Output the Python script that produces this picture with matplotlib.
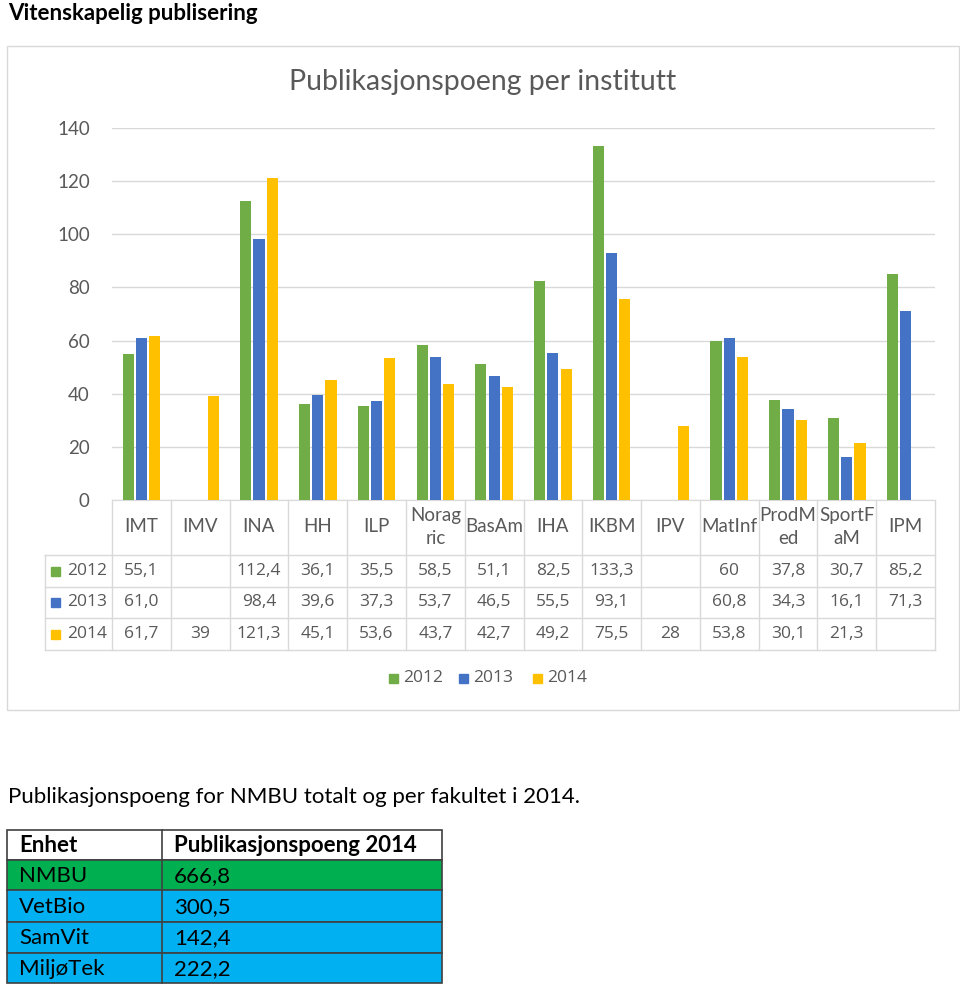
import matplotlib.pyplot as plt
import numpy as np

plt.rcParams['font.family'] = ['Lato', 'DejaVu Sans']

# data
institutter = ["IMT", "IMV", "INA", "HH", "ILP", "Norag\nric", "BasAm", "IHA",
               "IKBM", "IPV", "MatInf", "ProdM\ned", "SportF\naM", "IPM"]
aar = ["2012", "2013", "2014"]
poeng_2012 = ["55,1", "", "112,4", "36,1", "35,5", "58,5", "51,1", "82,5",
              "133,3", "", "60", "37,8", "30,7", "85,2"]
poeng_2013 = ["61,0", "", "98,4", "39,6", "37,3", "53,7", "46,5", "55,5",
              "93,1", "", "60,8", "34,3", "16,1", "71,3"]
poeng_2014 = ["61,7", "39", "121,3", "45,1", "53,6", "43,7", "42,7", "49,2",
              "75,5", "28", "53,8", "30,1", "21,3", ""]
farger = ["#70AD47", "#4472C4", "#FFC000"]

enheter = ["NMBU", "VetBio", "SamVit", "MiljøTek"]
poeng_fakultet = ["666,8", "300,5", "142,4", "222,2"]
enhet_farger = ["#00B050", "#00B0F0", "#00B0F0", "#00B0F0"]

W, H = 960, 985
fig = plt.figure(figsize=(W / 100, H / 100), dpi=100)


def box(x0, y0, x1, y1):
    # pixel box (top-left origin) -> figure rect
    return [x0 / W, 1 - y1 / H, (x1 - x0) / W, (y1 - y0) / H]


def fx(x):
    return x / W


def fy(y):
    return 1 - y / H


tall = [[np.nan if s == "" else float(s.replace(",", ".")) for s in serie]
        for serie in (poeng_2012, poeng_2013, poeng_2014)]
tekst = [poeng_2012, poeng_2013, poeng_2014]
grå = "#595959"
tallfont = ["Open Sans", "DejaVu Sans"]

# outer chart frame
bg = fig.add_axes(box(0, 0, W, H))
bg.set_xlim(0, W)
bg.set_ylim(H, 0)
bg.axis("off")
bg.add_patch(plt.Rectangle((7, 46), 952, 664, fill=False, ec="#D9D9D9", lw=1))

fig.text(fx(8), fy(14), "Vitenskapelig publisering", fontsize=16, fontweight="bold",
         va="center", ha="left")
fig.text(fx(483), fy(82), "Publikasjonspoeng per institutt", fontsize=20.4,
         color=grå, va="center", ha="center")

# bar chart
ax = fig.add_axes(box(112, 128, 935, 500))
n = len(institutter)
x = np.arange(n)
bredde = 0.19
for i, serie in enumerate(tall):
    ax.bar(x + (i - 1) * 0.225, serie, bredde, color=farger[i], zorder=3)
ax.set_xlim(-0.5, n - 0.5)
ax.set_ylim(0, 140)
ax.set_yticks(np.arange(0, 141, 20))
ax.grid(axis="y", color="#D9D9D9", lw=1, zorder=0)
ax.tick_params(axis="y", length=0, labelsize=13.5, labelcolor=grå, pad=16)
ax.set_xticks([])
for s in ["top", "right", "left"]:
    ax.spines[s].set_visible(False)
ax.spines["bottom"].set_color("#D9D9D9")

# data table under the chart, x in category units, y in pixels
tab = fig.add_axes(box(45, 500, 935, 650))
venstre = -0.5 - (112 - 45) / ((935 - 112) / n)
tab.set_xlim(venstre, n - 0.5)
tab.set_ylim(650, 500)
tab.axis("off")
rader = [500, 555, 587, 618, 650]
linjefarge = "#D9D9D9"
for k in range(n + 1):
    tab.plot([k - 0.5, k - 0.5], [500, 650], color=linjefarge, lw=1, clip_on=False)
tab.plot([venstre, venstre], [555, 650], color=linjefarge, lw=1, clip_on=False)
for r in rader[1:]:
    tab.plot([venstre, n - 0.5], [r, r], color=linjefarge, lw=1, clip_on=False)

for k, navn in enumerate(institutter):
    tab.text(k, 527, navn, ha="center", va="center", fontsize=13.5, color=grå,
             linespacing=1.45)
for i in range(3):
    ymid = (rader[i + 1] + rader[i + 2]) / 2
    bg.add_patch(plt.Rectangle((51, ymid - 4.5), 9, 9, color=farger[i]))
    bg.text(67, ymid, aar[i], ha="left", va="center", fontsize=12.5,
            color=grå, family=tallfont)
    for k in range(n):
        tab.text(k, ymid, tekst[i][k], ha="center", va="center", fontsize=12.5,
                 color=grå, family=tallfont)

# legend
leg_x = [389, 459, 533]
for i in range(3):
    bg.add_patch(plt.Rectangle((leg_x[i], 673.5), 9, 9, color=farger[i]))
    bg.text(leg_x[i] + 14, 678, aar[i], color=grå, fontsize=12.5,
            va="center", ha="left", family=tallfont)

# bottom text and table
fig.text(fx(8), fy(797), "Publikasjonspoeng for NMBU totalt og per fakultet i 2014.",
         fontsize=16, va="center", ha="left")

tx0, tx1, tsplit = 7, 442, 162
trader = [830, 860, 890, 922, 953, 983]
bg.add_patch(plt.Rectangle((tx0, trader[0]), tx1 - tx0, trader[1] - trader[0],
                           fc="white", ec="#404040", lw=1.2))
for j, enhet in enumerate(enheter):
    bg.add_patch(plt.Rectangle((tx0, trader[j + 1]), tx1 - tx0,
                               trader[j + 2] - trader[j + 1],
                               fc=enhet_farger[j], ec="#404040", lw=1.2))
bg.plot([tsplit, tsplit], [trader[0], trader[-1]], color="#404040", lw=1.2)
bg.text(19, (trader[0] + trader[1]) / 2 + 1, "Enhet", fontsize=16, fontweight="bold",
        va="center", ha="left")
bg.text(174, (trader[0] + trader[1]) / 2 + 1, "Publikasjonspoeng 2014", fontsize=16,
        fontweight="bold", va="center", ha="left")
for j, enhet in enumerate(enheter):
    ym = (trader[j + 1] + trader[j + 2]) / 2 + 1
    bg.text(19, ym, enhet, fontsize=16, va="center", ha="left")
    bg.text(174, ym, poeng_fakultet[j], fontsize=16, va="center", ha="left")

fig.savefig("out.png", dpi=100)
